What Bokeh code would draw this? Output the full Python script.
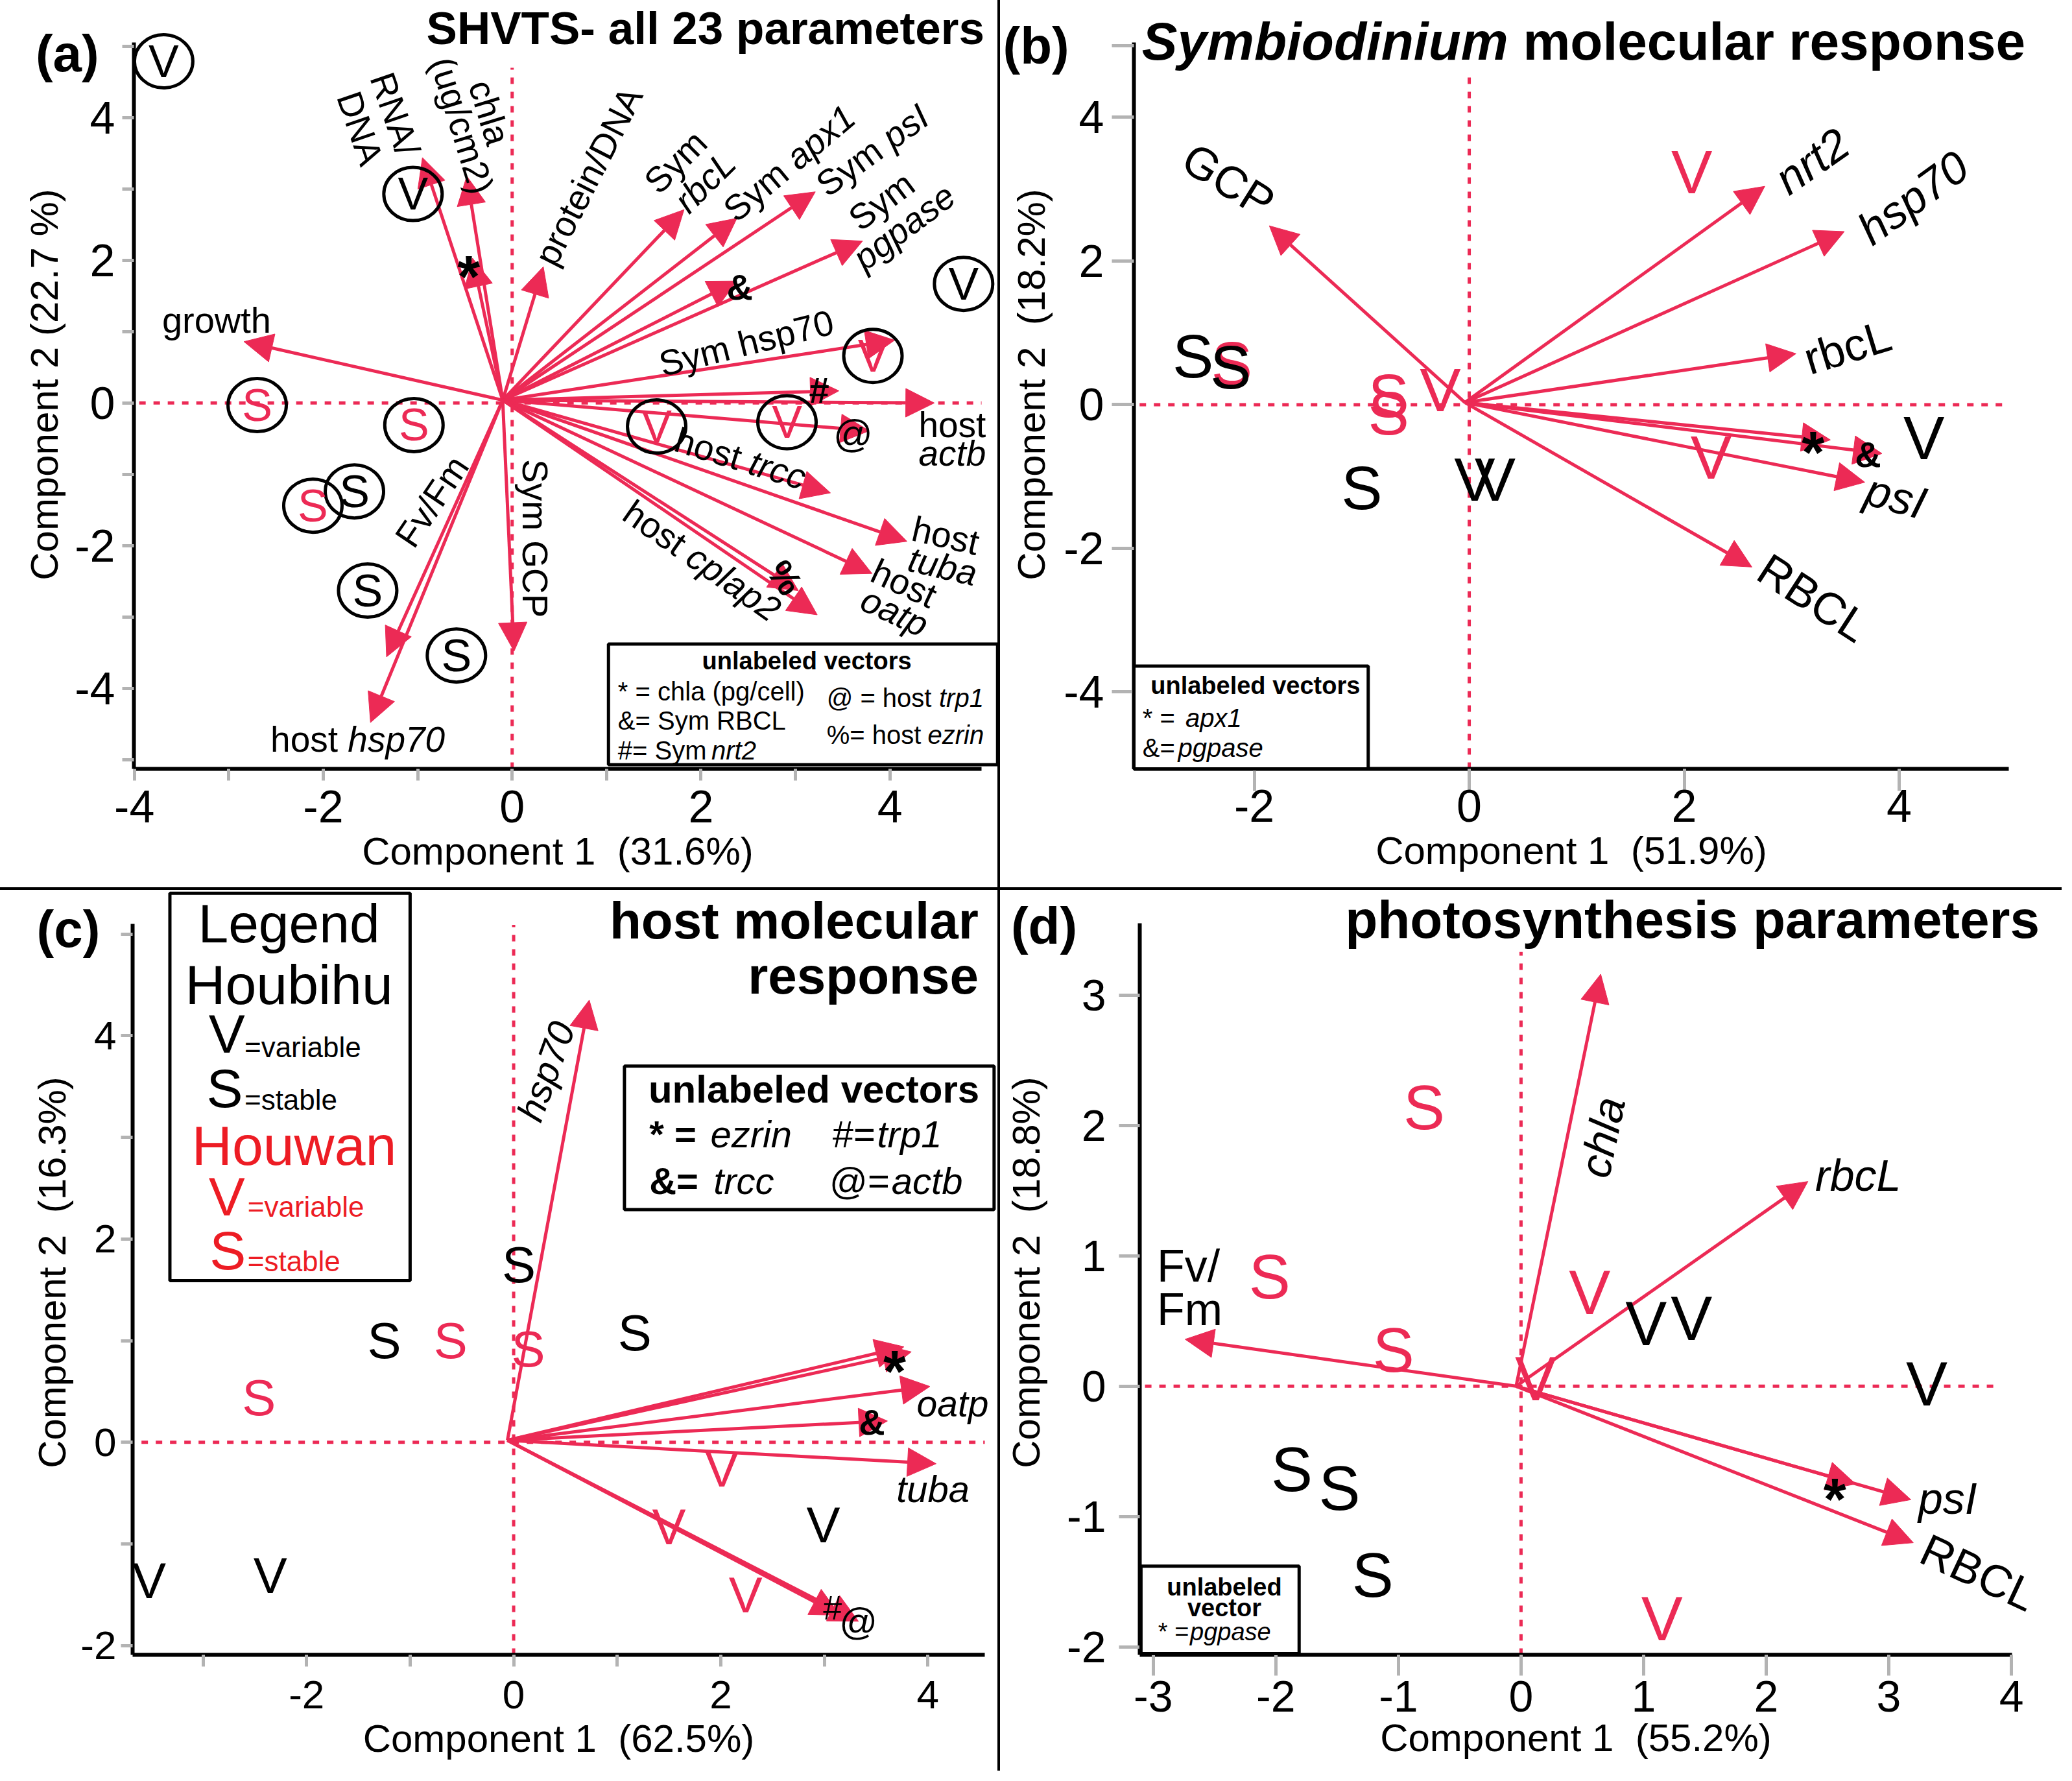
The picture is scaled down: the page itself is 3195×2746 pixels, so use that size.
import numpy as np
from bokeh.plotting import figure
from bokeh.models import ColumnDataSource, Arrow, NormalHead, FixedTicker, Div
from bokeh.layouts import row, column
from bokeh.embed import file_html
from bokeh.resources import INLINE
from bokeh.core.properties import value

RED = "#EC2A55"
LRED = "#ED1C24"
FONT = "Liberation Sans"

# ===================== DATA =====================
# ---- (a) SHVTS - all 23 parameters ----
A_ORIGIN = [-0.10, 0.04]
A_VEC_NAMES = ["growth", "RNA/DNA", "chla (ug/cm2)", "chla (pg/cell)", "protein/DNA",
               "Sym rbcL", "Sym apx1", "Sym psI", "Sym pgpase", "Sym RBCL", "Sym hsp70",
               "Sym nrt2", "host actb", "host trp1", "host trcc", "host tuba", "host oatp",
               "host ezrin", "host cplap2", "Sym GCP", "Fv/Fm", "host hsp70"]
A_VEC_PC1 = [-2.84, -0.95, -0.48, -0.42, 0.33, 1.82, 2.38, 3.21, 3.71, 2.38, 4.05,
             3.46, 4.47, 3.78, 3.37, 4.18, 3.81, 3.03, 3.23, 0.02, -1.33, -1.50]
A_VEC_PC2 = [0.86, 3.44, 3.18, 2.03, 1.91, 2.71, 2.59, 2.96, 2.27, 1.71, 0.88,
             0.17, 0.00, -0.39, -1.26, -1.94, -2.39, -2.63, -2.97, -3.48, -3.56, -4.48]
A_SITE = ["Houbihu", "Houbihu", "Houbihu", "Houwan", "Houwan", "Houwan",
          "Houwan", "Houwan", "Houwan", "Houbihu", "Houbihu", "Houbihu"]
A_GROUP = ["V", "V", "V", "V", "V", "V", "S", "S", "S", "S", "S", "S"]
A_PC1 = [-3.69, -1.05, 4.78, 3.82, 1.53, 2.91, -2.70, -1.04, -2.11, -1.67, -1.53, -0.59]
A_PC2 = [4.79, 2.93, 1.67, 0.66, -0.33, -0.27, -0.03, -0.31, -1.44, -1.24, -2.63, -3.54]

# ---- (b) Symbiodinium molecular response ----
B_ORIGIN = [-0.04, 0.03]
B_VEC_NAMES = ["GCP", "nrt2", "hsp70", "rbcL", "apx1", "pgpase", "psI", "RBCL"]
B_VEC_PC1 = [-1.86, 2.75, 3.49, 3.04, 3.36, 3.84, 3.68, 2.63]
B_VEC_PC2 = [2.49, 3.04, 2.41, 0.71, -0.49, -0.68, -1.08, -2.26]
B_SITE = ["Houbihu", "Houbihu", "Houbihu", "Houwan", "Houwan", "Houwan",
          "Houwan", "Houwan", "Houwan", "Houbihu", "Houbihu", "Houbihu"]
B_GROUP = ["S", "S", "S", "S", "S", "S", "V", "V", "V", "V", "V", "V"]
B_PC1 = [-2.57, -2.22, -1.00, -2.21, -0.75, -0.75, -0.27, 2.07, 2.25, 0.05, 0.24, 4.23]
B_PC2 = [0.68, 0.52, -1.16, 0.58, 0.13, -0.12, 0.21, 3.24, -0.73, -1.04, -1.04, -0.46]

# ---- (c) host molecular response ----
C_ORIGIN = [-0.06, 0.02]
C_VEC_NAMES = ["hsp70", "ezrin", "cplap2", "oatp", "trcc", "tuba", "trp1", "actb"]
C_VEC_PC1 = [0.73, 3.84, 3.77, 4.02, 3.61, 4.08, 3.15, 3.33]
C_VEC_PC2 = [4.35, 0.89, 0.94, 0.55, 0.21, -0.21, -1.70, -1.76]
C_SITE = ["Houbihu", "Houbihu", "Houbihu", "Houwan", "Houwan", "Houwan",
          "Houwan", "Houwan", "Houwan", "Houbihu", "Houbihu", "Houbihu"]
C_GROUP = ["S", "S", "S", "S", "S", "S", "V", "V", "V", "V", "V", "V"]
C_PC1 = [0.05, -1.25, 1.17, -0.61, 0.14, -2.46, 2.01, 1.50, 2.24, 2.99, -2.35, -3.52]
C_PC2 = [1.75, 1.00, 1.08, 1.00, 0.92, 0.44, -0.26, -0.83, -1.50, -0.81, -1.31, -1.36]

# ---- (d) photosynthesis parameters ----
D_ORIGIN = [-0.04, 0.00]
D_VEC_NAMES = ["chla", "rbcL", "Fv/Fm", "pgpase", "psI", "RBCL"]
D_VEC_PC1 = [0.65, 2.34, -2.74, 2.73, 3.18, 3.20]
D_VEC_PC2 = [3.16, 1.57, 0.36, -0.75, -0.87, -1.20]
D_SITE = ["Houwan", "Houwan", "Houwan", "Houwan", "Houwan", "Houwan",
          "Houbihu", "Houbihu", "Houbihu", "Houbihu", "Houbihu", "Houbihu"]
D_GROUP = ["S", "S", "S", "V", "V", "V", "V", "V", "V", "S", "S", "S"]
D_PC1 = [-0.79, -2.05, -1.04, 0.56, 0.12, 1.15, 1.02, 1.39, 3.31, -1.87, -1.48, -1.21]
D_PC2 = [2.14, 0.84, 0.28, 0.72, 0.06, -1.78, 0.48, 0.52, 0.02, -0.64, -0.78, -1.45]

SITE_COLOR = {"Houbihu": "black", "Houwan": RED}

# ===================== PANEL GEOMETRY =====================
NB = "\u00a0"
CFG = {
    "a": dict(w=1538, h=1368, bl=206, br=25, bt=0, bb=183,
              xr=(-4.005, 4.97), yr=(-5.13, 5.645), xb=(-4.005, 4.97), yb=(-5.13, 5.05),
              xt=[-4, -2, 0, 2, 4], xm=[-3, -1, 1, 3], yt=[-4, -2, 0, 2, 4], ym=[-5, -3, -1, 1, 3, 5],
              tl=18, tf=70, xs=15, ys=11, xas=8, yas=10,
              hx=(-4.1, 5.0), vy=(-5.13, 4.7),
              xl="Component 1" + NB + " (31.6%)", yl="Component 2 (22.7 %)"),
    "b": dict(w=1637, h=1368, bl=206, br=82, bt=0, bb=178,
              xr=(-3.12, 5.02), yr=(-5.07, 5.629), xb=(-3.12, 5.02), yb=(-5.07, 5.04),
              xt=[-2, 0, 2, 4], xm=[], yt=[-4, -2, 0, 2, 4], ym=[5],
              tl=34, tf=70, xs=-2, ys=12, xas=8, yas=13,
              hx=(-3.2, 4.96), vy=(-5.07, 4.65),
              xl="Component 1" + NB + " (51.9%)", yl="Component 2" + NB + " (18.2%)"),
    "c": dict(w=1538, h=1358, bl=204, br=20, bt=0, bb=177,
              xr=(-3.68, 4.55), yr=(-2.09, 5.431), xb=(-3.68, 4.55), yb=(-2.09, 5.10),
              xt=[-2, 0, 2, 4], xm=[-3, -1, 1, 3], yt=[-2, 0, 2, 4], ym=[-1, 1, 3, 5],
              tl=18, tf=62, xs=22, ys=7, xas=10, yas=7,
              hx=(-3.87, 4.62), vy=(-2.09, 5.09),
              xl="Component 1" + NB + " (62.5%)", yl="Component 2" + NB + " (16.3%)"),
    "d": dict(w=1637, h=1358, bl=215, br=77, bt=0, bb=179,
              xr=(-3.11, 4.005), yr=(-2.06, 3.804), xb=(-3.11, 4.005), yb=(-2.06, 3.55),
              xt=[-3, -2, -1, 0, 1, 2, 3, 4], xm=[], yt=[-2, -1, 0, 1, 2, 3], ym=[],
              tl=32, tf=68, xs=8, ys=20, xas=4, yas=26,
              hx=(-3.3, 3.9), vy=(-2.06, 3.33),
              xl="Component 1" + NB + " (55.2%)", yl="Component 2" + NB + " (18.8%)"),
}


def units(c):
    ux = (c["w"] - c["bl"] - c["br"]) / (c["xr"][1] - c["xr"][0])
    uy = (c["h"] - c["bt"] - c["bb"]) / (c["yr"][1] - c["yr"][0])
    return ux, uy


def make_fig(c):
    p = figure(width=c["w"], height=c["h"], x_range=c["xr"], y_range=c["yr"],
               output_backend="svg", toolbar_location=None,
               min_border_left=c["bl"], min_border_right=c["br"],
               min_border_top=c["bt"], min_border_bottom=c["bb"])
    p.xgrid.visible = False
    p.ygrid.visible = False
    p.outline_line_color = None
    p.xaxis.ticker = FixedTicker(ticks=c["xt"], minor_ticks=c["xm"])
    p.yaxis.ticker = FixedTicker(ticks=c["yt"], minor_ticks=c["ym"])
    p.xaxis.major_label_overrides = {t: str(t) for t in c["xt"]}
    p.yaxis.major_label_overrides = {t: str(t) for t in c["yt"]}
    p.xaxis.bounds = c["xb"]
    p.yaxis.bounds = c["yb"]
    for ax in (p.xaxis[0], p.yaxis[0]):
        ax.axis_line_color = "black"
        ax.axis_line_width = 6
        ax.major_tick_line_color = "#b3b3b3"
        ax.minor_tick_line_color = "#b3b3b3"
        ax.major_tick_line_width = 5
        ax.minor_tick_line_width = 5
        ax.major_tick_in = 0
        ax.minor_tick_in = 0
        ax.major_tick_out = c["tl"]
        ax.minor_tick_out = c["tl"]
        ax.major_label_text_font = FONT
        ax.major_label_text_font_size = f"{c['tf']}px"
        ax.major_label_text_color = "black"
        ax.axis_label_text_font = FONT
        ax.axis_label_text_font_size = "60px"
        ax.axis_label_text_font_style = "normal"
        ax.axis_label_text_color = "black"
    p.xaxis.axis_label = c["xl"]
    p.yaxis.axis_label = c["yl"]
    p.xaxis.major_label_standoff = c["xs"]
    p.yaxis.major_label_standoff = c["ys"]
    p.xaxis.axis_label_standoff = c["xas"]
    p.yaxis.axis_label_standoff = c["yas"]
    # dashed zero reference lines
    zsrc = ColumnDataSource(dict(x0=[c["hx"][0], 0], y0=[0, c["vy"][0]],
                                 x1=[c["hx"][1], 0], y1=[0, c["vy"][1]]))
    z = p.segment(x0="x0", y0="y0", x1="x1", y1="y1", line_color=RED, line_width=5,
                  line_dash="10 12", source=zsrc)
    z.level = "underlay"
    return p


def add_vectors(p, origin, pc1, pc2, head=44):
    n = len(pc1)
    src = ColumnDataSource(dict(x0=[origin[0]] * n, y0=[origin[1]] * n, x1=pc1, y1=pc2))
    p.add_layout(Arrow(end=NormalHead(size=head, fill_color=RED, line_color=RED, line_width=1),
                       x_start="x0", y_start="y0", x_end="x1", y_end="y1", source=src,
                       line_color=RED, line_width=5))


def add_text(p, rows):
    d = dict(x=[], y=[], text=[], angle=[], fsize=[], fstyle=[], talign=[], tcolor=[])
    for r in rows:
        r = list(r) + [None] * (8 - len(r))
        d["text"].append(r[0])
        d["x"].append(r[1])
        d["y"].append(r[2])
        d["angle"].append(r[3] if r[3] is not None else 0)
        d["fsize"].append(f"{r[4] if r[4] is not None else 55}px")
        d["fstyle"].append(r[5] or "normal")
        d["talign"].append(r[6] or "center")
        d["tcolor"].append(r[7] or "black")
    src = ColumnDataSource(d)
    rr = p.text(x="x", y="y", text="text", angle="angle", angle_units="deg",
                text_font_size="fsize", text_font_style="fstyle", text_align="talign",
                text_color="tcolor", text_baseline="middle", text_font=value(FONT), source=src)
    rr.level = "overlay"
    return rr


def add_points(p, site, group, pc1, pc2, size):
    order = sorted(range(len(site)), key=lambda i: 0 if site[i] == "Houwan" else 1)
    src = ColumnDataSource(dict(x=[pc1[i] for i in order], y=[pc2[i] for i in order],
                                t=[group[i] for i in order],
                                col=[SITE_COLOR[site[i]] for i in order]))
    rr = p.text(x="x", y="y", text="t", text_color="col", text_font_size=f"{size}px",
                text_align="center", text_baseline="middle", text_font=value(FONT), source=src)
    rr.level = "overlay"


def add_box(p, box, lw=5):
    l, r, t, b = box
    src = ColumnDataSource(dict(l=[l], r=[r], t=[t], b=[b]))
    q = p.quad(left="l", right="r", top="t", bottom="b", fill_color="white",
               line_color="black", line_width=lw, source=src)
    q.level = "overlay"


def split(left, right, x, y, ang, size, u, lstyle="normal", rstyle="italic", color="black"):
    ux, uy = u
    g = 0.278 * size
    th = np.radians(ang)
    dx = np.cos(th) * g / ux
    dy = np.sin(th) * g / uy
    return [(left, x - dx, y - dy, ang, size, lstyle, "right", color),
            (right, x, y, ang, size, rstyle, "left", color)]


def star(x, y, u, size=90):
    # asterisk glyph sits high in the em box: lower it to centre it on (x, y)
    return ("*", x, y - 0.22 * size / u[1], 0, size, "bold")


# ===================== PANEL (a) =====================
ca = CFG["a"]
ua = units(ca)
pa = make_fig(ca)
add_vectors(pa, A_ORIGIN, A_VEC_PC1, A_VEC_PC2)
circ = pa.ellipse(x=A_PC1, y=A_PC2, width=90, height=82, width_units="screen",
                  height_units="screen", fill_color=None, line_color="black", line_width=5)
circ.level = "overlay"
A_BOX = (1.02, 5.14, -3.38, -5.07)
add_box(pa, A_BOX)
add_points(pa, A_SITE, A_GROUP, A_PC1, A_PC2, 70)
LAB_A = [
    ("growth", -3.13, 1.16, 0, 56),
    ("RNA/", -1.24, 4.05, -71, 55),
    ("DNA", -1.61, 3.85, -71, 55),
    ("chla", -0.24, 4.07, -73, 55),
    ("(ug/cm2)", -0.53, 3.89, -73, 55),
    ("protein/DNA", 0.81, 3.18, 63, 55),
    ("Sym", 1.73, 3.38, 45, 55),
    ("rbcL", 2.04, 3.10, 45, 55, "italic"),
    ("Sym", 3.91, 2.83, 37, 55),
    ("pgpase", 4.15, 2.47, 37, 55, "italic"),
    ("Sym hsp70", 2.48, 0.84, 14, 55),
    ("host", 4.66, -0.31, 0, 55),
    ("actb", 4.66, -0.71, 0, 55, "italic"),
    ("host", 4.59, -1.86, -13, 55),
    ("tuba", 4.56, -2.29, -13, 55, "italic"),
    ("host", 4.15, -2.53, -25, 55),
    ("oatp", 4.05, -2.93, -25, 55, "italic"),
    ("Sym GCP", 0.24, -1.90, -90, 55),
    ("Fv/Fm", -0.85, -1.38, 56, 55),
    star(-0.46, 1.95, ua),
    ("&", 2.41, 1.63, 0, 56, "bold"),
    ("#", 3.25, 0.18, 0, 56, "bold"),
    ("@", 3.61, -0.43, 0, 60),
    ("%", 2.89, -2.45, -55, 56, "bold"),
    ("unlabeled vectors", 3.12, -3.62, 0, 38, "bold"),
    ("* = chla (pg/cell)", 1.12, -4.04, 0, 40, "normal", "left"),
    ("&= Sym RBCL", 1.12, -4.45, 0, 40, "normal", "left"),
    ("#= Sym", 1.12, -4.87, 0, 40, "normal", "left"),
    ("nrt2", 2.11, -4.87, 0, 40, "italic", "left"),
    ("@ = host", 3.33, -4.13, 0, 40, "normal", "left"),
    ("trp1", 4.52, -4.13, 0, 40, "italic", "left"),
    ("%= host", 3.33, -4.65, 0, 40, "normal", "left"),
    ("ezrin", 4.40, -4.65, 0, 40, "italic", "left"),
    ("SHVTS- all 23 parameters", 5.0, 5.25, 0, 71, "bold", "right"),
    ("(a)", -4.71, 4.90, 0, 80, "bold"),
]
LAB_A += split("Sym", "apx1", 2.95, 3.38, 40, 55, ua)
LAB_A += split("Sym", "psI", 3.96, 3.68, 36, 55, ua)
LAB_A += split("host", "trcc", 2.52, -0.82, -17, 55, ua)
LAB_A += split("host", "cplap2", 1.89, -2.10, -35, 55, ua)
LAB_A += split("host", "hsp70", -1.74, -4.72, 0, 55, ua)
add_text(pa, LAB_A)

# ===================== PANEL (b) =====================
cb = CFG["b"]
ub = units(cb)
pb = make_fig(cb)
add_vectors(pb, B_ORIGIN, B_VEC_PC1, B_VEC_PC2)
B_BOX = (-3.12, -0.94, -3.64, -5.07)
add_box(pb, B_BOX)
add_points(pb, B_SITE, B_GROUP, B_PC1, B_PC2, 95)
LAB_B = [
    ("GCP", -2.24, 3.12, -32, 70),
    ("nrt2", 3.19, 3.39, 35, 70, "italic"),
    ("hsp70", 4.13, 2.88, 36, 70, "italic"),
    ("rbcL", 3.52, 0.80, 17, 70),
    ("psI", 3.97, -1.28, -15, 70, "italic"),
    ("RBCL", 3.20, -2.69, -33, 70),
    star(3.20, -0.49, ub),
    ("&", 3.71, -0.69, 0, 56, "bold"),
    ("unlabeled vectors", -1.99, -3.91, 0, 38, "bold"),
    ("* =", -3.04, -4.36, 0, 40, "normal", "left"),
    ("apx1", -2.64, -4.36, 0, 40, "italic", "left"),
    ("&=", -3.04, -4.78, 0, 40, "normal", "left"),
    ("pgpase", -2.71, -4.78, 0, 40, "italic", "left"),
    ("(b)", -4.03, 5.0, 0, 80, "bold"),
]
LAB_B += split("Symbiodinium", "molecular response", 0.50, 5.06, 0, 82, ub,
               lstyle="bold italic", rstyle="bold")
add_text(pb, LAB_B)

# ===================== PANEL (c) =====================
cc = CFG["c"]
uc = units(cc)
pc = make_fig(cc)
add_vectors(pc, C_ORIGIN, C_VEC_PC1, C_VEC_PC2)
C_BOX1 = (-3.32, -1.0, 5.40, 1.59)
C_BOX2 = (1.07, 4.64, 3.70, 2.29)
add_box(pc, C_BOX1)
add_box(pc, C_BOX2)
add_points(pc, C_SITE, C_GROUP, C_PC1, C_PC2, 78)
LAB_C = [
    ("hsp70", 0.31, 3.65, 70, 58, "italic"),
    ("oatp", 4.24, 0.38, 0, 57, "italic"),
    ("tuba", 4.05, -0.46, 0, 58, "italic"),
    star(3.68, 0.82, uc),
    ("&", 3.46, 0.20, 0, 56, "bold"),
    ("#", 3.08, -1.63, 0, 52),
    ("@", 3.33, -1.76, 0, 58),
    ("Legend", -2.17, 5.10, 0, 84),
    ("Houbihu", -2.17, 4.50, 0, 86),
    ("V", -2.77, 4.02, 0, 84),
    ("=variable", -2.60, 3.89, 0, 44, "normal", "left"),
    ("S", -2.79, 3.48, 0, 84),
    ("=stable", -2.60, 3.37, 0, 44, "normal", "left"),
    ("Houwan", -2.12, 2.92, 0, 86, "normal", "center", LRED),
    ("V", -2.77, 2.42, 0, 84, "normal", "center", LRED),
    ("=variable", -2.57, 2.32, 0, 44, "normal", "left", LRED),
    ("S", -2.76, 1.89, 0, 84, "normal", "center", LRED),
    ("=stable", -2.57, 1.78, 0, 44, "normal", "left", LRED),
    ("unlabeled vectors", 2.90, 3.47, 0, 60, "bold"),
    ("* =", 1.31, 3.03, 0, 58, "bold", "left"),
    ("ezrin", 1.90, 3.03, 0, 58, "italic", "left"),
    ("#=", 3.08, 3.03, 0, 58, "normal", "left"),
    ("trp1", 3.51, 3.03, 0, 58, "italic", "left"),
    ("&=", 1.31, 2.57, 0, 58, "bold", "left"),
    ("trcc", 1.93, 2.57, 0, 58, "italic", "left"),
    ("@=", 3.05, 2.57, 0, 58, "normal", "left"),
    ("actb", 3.65, 2.57, 0, 58, "italic", "left"),
    ("host molecular", 4.49, 5.13, 0, 80, "bold", "right"),
    ("response", 4.49, 4.59, 0, 80, "bold", "right"),
    ("(c)", -4.30, 5.05, 0, 80, "bold"),
]
add_text(pc, LAB_C)

# ===================== PANEL (d) =====================
cd = CFG["d"]
ud = units(cd)
pd_ = make_fig(cd)
add_vectors(pd_, D_ORIGIN, D_VEC_PC1, D_VEC_PC2)
D_BOX = (-3.10, -1.81, -1.38, -2.05)
add_box(pd_, D_BOX)
add_points(pd_, D_SITE, D_GROUP, D_PC1, D_PC2, 96)
LAB_D = [
    ("chla", 0.66, 1.91, 78, 68, "italic"),
    ("rbcL", 2.75, 1.62, 0, 68, "italic"),
    ("Fv/", -2.97, 0.92, 0, 70, "normal", "left"),
    ("Fm", -2.97, 0.59, 0, 70, "normal", "left"),
    ("psI", 3.48, -0.86, 0, 68, "italic"),
    ("RBCL", 3.73, -1.43, -25, 70),
    star(2.56, -0.77, ud),
    ("unlabeled", -2.42, -1.54, 0, 38, "bold"),
    ("vector", -2.42, -1.70, 0, 38, "bold"),
    ("* =", -2.96, -1.885, 0, 38, "normal", "left"),
    ("pgpase", -2.70, -1.885, 0, 38, "italic", "left"),
    ("photosynthesis parameters", 4.23, 3.58, 0, 82, "bold", "right"),
    ("(d)", -3.89, 3.53, 0, 80, "bold"),
]
add_text(pd_, LAB_D)

# ===================== LAYOUT =====================
def vdiv(h):
    return Div(width=4, height=h, margin=0, styles={"background-color": "black"})


hdiv = Div(width=3179, height=4, margin=0, styles={"background-color": "black"})
layout = column(row(pa, vdiv(1368), pb), hdiv, row(pc, vdiv(1358), pd_))

open("out.html", "w").write(file_html(layout, INLINE))
